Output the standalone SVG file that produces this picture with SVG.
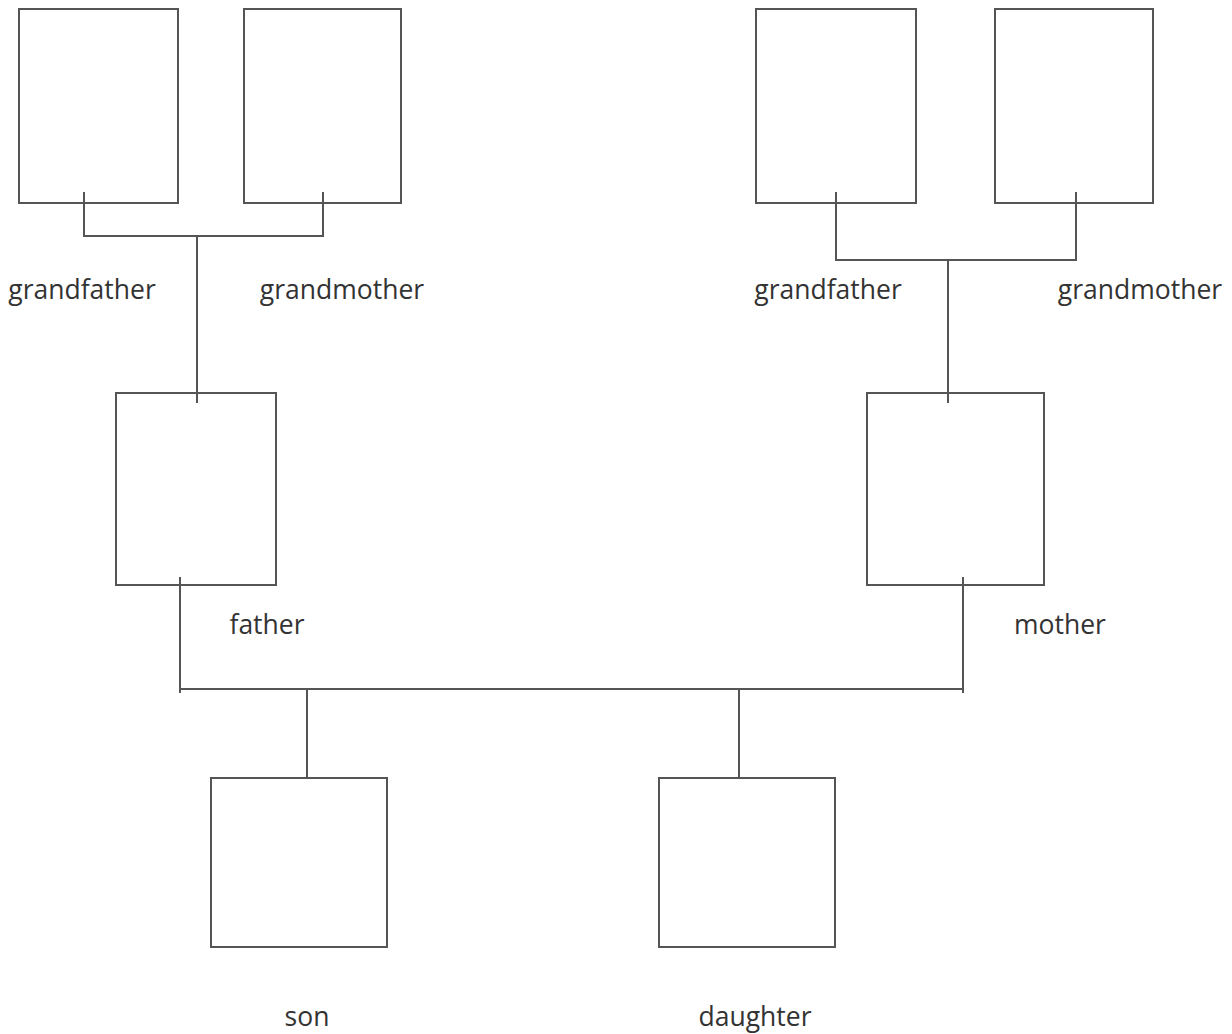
<svg xmlns="http://www.w3.org/2000/svg" width="1232" height="1034" viewBox="0 0 1232 1034">
<style>
.box{fill:#fff;stroke:#555;stroke-width:2}
.ln{fill:none;stroke:#555;stroke-width:2}
.lbl{font-family:"Open Sans","Noto Sans",sans-serif;font-size:26.5px;fill:#333;text-anchor:middle}
</style>
<rect width="1232" height="1034" fill="#fff"/>
<g id="nodes">
<g id="gf-left"><rect class="box" x="19" y="9" width="159" height="194"/><text class="lbl" x="82" y="299">grandfather</text></g>
<g id="gm-left"><rect class="box" x="244" y="9" width="157" height="194"/><text class="lbl" x="342" y="299">grandmother</text></g>
<g id="gf-right"><rect class="box" x="756" y="9" width="160" height="194"/><text class="lbl" x="828" y="299">grandfather</text></g>
<g id="gm-right"><rect class="box" x="995" y="9" width="158" height="194"/><text class="lbl" x="1140" y="299">grandmother</text></g>
<g id="father"><rect class="box" x="116" y="393" width="160" height="192"/><text class="lbl" x="267" y="634">father</text></g>
<g id="mother"><rect class="box" x="867" y="393" width="177" height="192"/><text class="lbl" x="1060" y="634">mother</text></g>
<g id="son"><rect class="box" x="211" y="778" width="176" height="169"/><text class="lbl" x="307" y="1026">son</text></g>
<g id="daughter"><rect class="box" x="659" y="778" width="176" height="169"/><text class="lbl" x="755" y="1026">daughter</text></g>
</g>
<g id="connectors">
<path class="ln" d="M84 192V236H323V192M197 236V403"/>
<path class="ln" d="M836 192V260H1076V192M948 260V403"/>
<path class="ln" d="M180 577V693M180 689H963M963 577V693M307 689V778M739 689V778"/>
</g>
</svg>
